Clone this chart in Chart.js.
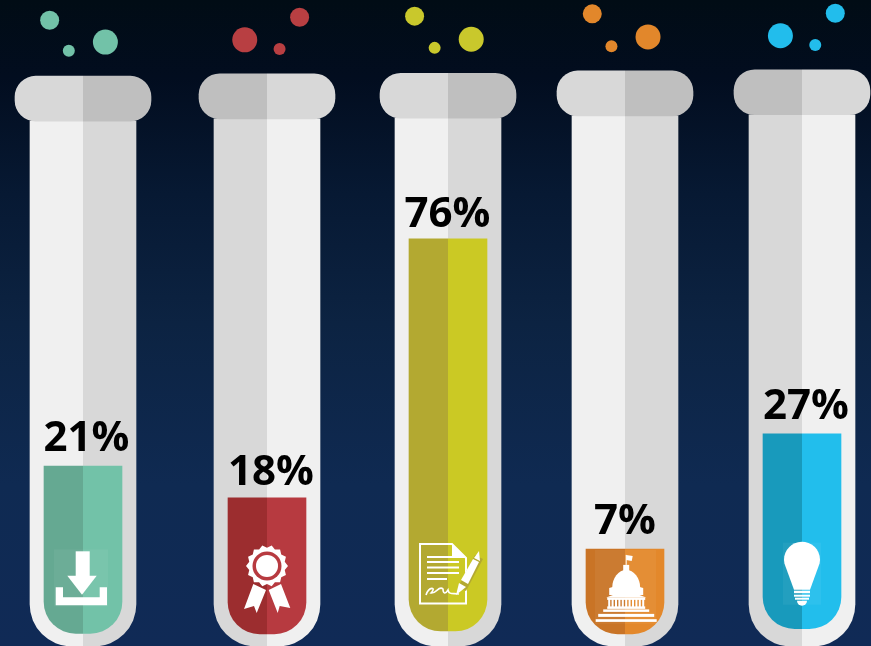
<!DOCTYPE html>
<html>
<head>
<meta charset="utf-8">
<title>Test tubes</title>
<script src="https://cdn.jsdelivr.net/npm/chart.js@4"></script>
<style>
  html, body { margin: 0; padding: 0; height: 100%; overflow: hidden; }
  body { background: linear-gradient(to bottom, #010c15 0%, #020d1f 12%, #071933 30%, #0c2342 50%, #0f2a52 75%, #102a56 100%); }
  canvas { display: block; }
</style>
</head>
<body>
<canvas id="tubes" width="871" height="646"></canvas>
<script>
// Data
const categories = ["Download", "Award", "Contract", "Government", "Idea"];
const percentValues = [21, 18, 76, 7, 27];
// The drawn liquid is not to scale with the printed percent, so keep its level separately
const liquidTop = [31.2, 25.7, 70.6, 16.8, 36.8];
const liquidBase = [2.2, 2.1, 2.6, 2.1, 3.0];
const lipTop = [98.8, 99.2, 99.3, 99.7, 99.9];
const lipBottom = [91.0, 91.4, 91.5, 91.9, 92.1];
const tubeBottom = [0, 0, 0, 0, 0];

const bubbleTube = [0, 0, 0, 1, 1, 1, 2, 2, 2, 3, 3, 3, 4, 4, 4];
const bubbleX = [5.7, 7.9, 12.1, 34.4, 28.1, 32.1, 47.6, 49.9, 54.1, 68.0, 70.2, 74.4, 95.9, 93.6, 89.6];
const bubbleLevel = [108.5, 103.2, 104.7, 109.0, 105.1, 103.5, 109.2, 103.7, 105.2, 109.6, 104.0, 105.6, 109.7, 104.2, 105.8];
const bubbleSize = [9.5, 6, 12.5, 9.5, 12.5, 6, 9.5, 6, 12.5, 9.5, 6, 12.5, 9.5, 6, 12.5];

// Colours
const liquidDark = ["#65a992", "#9c2d2f", "#b3a931", "#c97426", "#189abc"];
const liquidLight = ["#72c2a8", "#b73a40", "#cbc924", "#e3882b", "#22beec"];
const lightOnLeft = [true, false, true, true, false];
const bubbleColors = ["#72c2a8", "#b83f42", "#c9c82c", "#e2872b", "#22bdec"];

// The tubes are not evenly spaced, px shift from the category centre
const tubeNudge = [-4.1, 5.7, 12.5, 15.3, 17.6];
const labelNudge = [3.5, 4, -0.5, 0, 4];
const labelGap = [15, 13, 12, 15, 15];

const pair = (a, b) => a.map((v, i) => [v, b[i]]);
const side = (light, dark, isLeft) => lightOnLeft.map((l) => (l === isLeft ? light : dark));

function poly(ctx, pts) {
  ctx.beginPath();
  pts.forEach((p, i) => (i ? ctx.lineTo(p[0], p[1]) : ctx.moveTo(p[0], p[1])));
  ctx.closePath();
  ctx.fill();
}

function rect(ctx, x, y, w, h) {
  ctx.fillRect(x, y, w, h);
}

// faint lighter box the source image has behind some icons
function tint(ctx, x, y, w, h) {
  ctx.fillStyle = "rgba(255,255,255,0.05)";
  ctx.fillRect(x, y, w, h);
  ctx.fillStyle = "#fff";
}

// Icons are drawn around the tube centre, with y = 0 at the liquid base
const icons = [
  function download(ctx) {
    tint(ctx, -29, -84, 54, 57);
    rect(ctx, -7.3, -82, 14, 25);
    poly(ctx, [[-15.7, -57.5], [13.7, -57.5], [-1, -38.5]]);
    poly(ctx, [[-27.3, -46], [-20, -46], [-20, -36], [16.7, -36], [16.7, -46], [24, -46], [24, -28], [-27.3, -28]]);
  },
  function award(ctx, fill) {
    poly(ctx, [[-13.7, -50], [-1, -44], [-10.3, -21], [-13, -28], [-23, -25]]);
    poly(ctx, [[1.7, -44], [14, -50], [23.3, -26], [12.7, -28], [10.7, -21]]);
    const cy = -68;
    ctx.beginPath();
    for (let i = 0; i < 28; i++) {
      const a = (i / 28) * Math.PI * 2;
      const r = i % 2 ? 18.2 : 21;
      ctx.lineTo(Math.cos(a) * r, cy + Math.sin(a) * r);
    }
    ctx.closePath();
    ctx.fill();
    ctx.fillStyle = fill;
    ctx.beginPath();
    ctx.arc(0, cy, 14.5, 0, Math.PI * 2);
    ctx.fill();
    ctx.fillStyle = "#fff";
    ctx.beginPath();
    ctx.arc(0, cy, 11, 0, Math.PI * 2);
    ctx.fill();
  },
  function contract(ctx, fill) {
    ctx.strokeStyle = "#fff";
    ctx.lineWidth = 2;
    ctx.beginPath();
    ctx.moveTo(-28, -87);
    ctx.lineTo(4, -87);
    ctx.lineTo(18, -73);
    ctx.lineTo(18, -27.5);
    ctx.lineTo(-28, -27.5);
    ctx.closePath();
    ctx.stroke();
    poly(ctx, [[4, -87], [18, -73], [4, -73]]);
    rect(ctx, -21, -75, 26, 2);
    rect(ctx, -21, -70, 32, 2);
    rect(ctx, -21, -64.5, 32, 2);
    rect(ctx, -21, -59, 32, 2);
    rect(ctx, -21, -53, 20, 2);
    // signature
    ctx.lineWidth = 1.6;
    ctx.beginPath();
    ctx.moveTo(-22, -36);
    ctx.bezierCurveTo(-19, -45, -11, -44, -17, -38);
    ctx.bezierCurveTo(-12, -37, -9, -46, -5, -42);
    ctx.bezierCurveTo(-5, -38, -3, -36, 0, -41);
    ctx.bezierCurveTo(1, -36, 5, -38, 11, -37);
    ctx.stroke();
    // pen
    ctx.strokeStyle = fill;
    ctx.lineWidth = 9;
    ctx.beginPath();
    ctx.moveTo(14, -42);
    ctx.lineTo(31, -74);
    ctx.stroke();
    poly(ctx, [[8, -36], [11, -48], [18, -44]]);
    poly(ctx, [[13, -51], [25, -72], [31, -69], [20, -47]]);
    poly(ctx, [[26, -73], [31, -80], [32, -70]]);
  },
  function capitol(ctx) {
    const o = 1.2;
    tint(ctx, -30, -84, 61, 74);
    rect(ctx, o - 0.5, -79, 1, 10);
    poly(ctx, [[o, -79], [o + 6.5, -78], [o + 5.5, -73], [o, -74]]);
    rect(ctx, o - 3, -69, 6, 8);
    ctx.beginPath();
    ctx.ellipse(o, -46, 14, 18, 0, Math.PI, 0);
    ctx.closePath();
    ctx.fill();
    poly(ctx, [[o - 17, -39], [o - 17, -46], [o - 13.5, -47], [o + 13.5, -47], [o + 17, -46], [o + 17, -39]]);
    poly(ctx, [[o - 20, -36.5], [o, -44], [o + 20, -36.5]]);
    rect(ctx, o - 19, -36.5, 38, 2.5);
    rect(ctx, o - 19, -27.5, 38, 2.5);
    for (let i = 0; i < 11; i++) rect(ctx, o - 18 + i * 3.4, -35, 2, 9);
    rect(ctx, o - 23, -24.5, 46, 2.5);
    rect(ctx, o - 28, -20, 56, 3);
    rect(ctx, o - 30.5, -14.7, 61, 2.7);
  },
  function idea(ctx) {
    tint(ctx, -19, -86, 38, 62);
    ctx.beginPath();
    ctx.arc(0, -69, 18, Math.PI * 0.93, Math.PI * 0.07);
    ctx.lineTo(8, -39);
    ctx.lineTo(-8, -39);
    ctx.closePath();
    ctx.fill();
    rect(ctx, -8, -38, 16, 2.5);
    rect(ctx, -8, -34, 16, 2);
    rect(ctx, -7, -31, 14, 2);
    ctx.beginPath();
    ctx.arc(0, -28, 5, 0, Math.PI);
    ctx.fill();
  },
];

// Shift every bar onto its tube centre after the scales have placed it
const nudgePlugin = {
  id: "nudge",
  afterDatasetsUpdate(chart) {
    chart.data.datasets.forEach((ds, d) => {
      if (ds.type === "bubble") return;
      chart.getDatasetMeta(d).data.forEach((el, i) => {
        el.x = Math.round(el.x + tubeNudge[i]);
      });
    });
  },
};

// Each tube is one full width bar drawn twice, clipped to its left and right half
const halfPlugin = {
  id: "half",
  beforeDatasetDraw(chart, args) {
    const half = chart.data.datasets[args.index].half;
    if (!half) return;
    const ctx = chart.ctx;
    ctx.save();
    ctx.beginPath();
    args.meta.data.forEach((el) => {
      if (half === "left") ctx.rect(el.x - 100, 0, 100, chart.height);
      else ctx.rect(el.x, 0, 100, chart.height);
    });
    ctx.clip();
  },
  afterDatasetDraw(chart, args) {
    if (chart.data.datasets[args.index].half) chart.ctx.restore();
  },
};

const labelPlugin = {
  id: "labels",
  afterDatasetsDraw(chart) {
    const ctx = chart.ctx;
    const liquid = chart.getDatasetMeta(0).data;
    ctx.save();
    liquid.forEach((el, i) => {
      ctx.save();
      ctx.translate(el.x, el.base);
      ctx.fillStyle = "#fff";
      icons[i](ctx, i < 3 && lightOnLeft[i] ? liquidDark[i] : liquidLight[i]);
      ctx.restore();

      ctx.fillStyle = "#000";
      ctx.font = "bold 42px 'Open Sans'";
      ctx.textAlign = "center";
      ctx.textBaseline = "alphabetic";
      ctx.fillText(percentValues[i] + "%", el.x + labelNudge[i], el.y - labelGap[i]);
    });
    ctx.restore();
  },
};

const liquidRadius = { topLeft: 0, topRight: 0, bottomLeft: 32, bottomRight: 32 };
const bodyRadius = { topLeft: 0, topRight: 0, bottomLeft: 42, bottomRight: 42 };

function tubeBar(data, half, color, width, radius, order) {
  return {
    type: "bar",
    data: data,
    half: half,
    backgroundColor: color,
    maxBarThickness: width,
    borderRadius: radius,
    borderSkipped: false,
    borderWidth: 0,
    grouped: false,
    barPercentage: 1,
    categoryPercentage: 1,
    order: order,
    xAxisID: "x",
    yAxisID: "y",
  };
}

const liquidData = pair(liquidBase, liquidTop);
const lipData = pair(lipBottom, lipTop);
const bodyData = pair(tubeBottom, lipBottom);

const chart = new Chart(document.getElementById("tubes"), {
  data: {
    labels: categories,
    datasets: [
      tubeBar(liquidData, "left", liquidDark, 78, liquidRadius, 1),
      tubeBar(liquidData, "right", liquidLight, 78, liquidRadius, 1),
      tubeBar(lipData, "left", side("#d8d8d8", "#bfbfbf", true), 136, 21, 2),
      tubeBar(lipData, "right", side("#d8d8d8", "#bfbfbf", false), 136, 21, 2),
      tubeBar(bodyData, "left", side("#f0f0f0", "#d8d8d8", true), 106, bodyRadius, 3),
      tubeBar(bodyData, "right", side("#f0f0f0", "#d8d8d8", false), 106, bodyRadius, 3),
      {
        type: "bubble",
        data: bubbleX.map((x, i) => ({ x: x, y: bubbleLevel[i], r: bubbleSize[i] })),
        backgroundColor: bubbleTube.map((t) => bubbleColors[t]),
        borderWidth: 0,
        order: 0,
        xAxisID: "xBubble",
        yAxisID: "y",
      },
    ],
  },
  options: {
    responsive: false,
    animation: false,
    events: [],
    layout: { padding: 0, autoPadding: false },
    plugins: { legend: { display: false }, tooltip: { enabled: false } },
    scales: {
      x: { type: "category", display: false, offset: true },
      xBubble: { type: "linear", display: false, min: 0, max: 100 },
      y: { type: "linear", display: false, min: 0, max: 112, stacked: false },
    },
  },
  plugins: [nudgePlugin, halfPlugin, labelPlugin],
});
</script>
</body>
</html>
